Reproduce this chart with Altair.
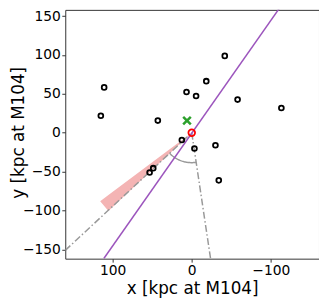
import altair as alt
import numpy as np
import pandas as pd

# satellites (open black circles)
sat_x = [110.8, 115.0, 42.9, 6.6, -5.5, -18.4, -41.8, -58.0, -113.4, 12.5, -3.4, -30.0, 53.3, 48.7, -34.2]
sat_y = [58.3, 21.9, 15.6, 52.3, 47.3, 66.3, 98.8, 42.6, 31.7, -9.4, -20.3, -16.1, -51.2, -45.6, -61.3]

# host (red circle) and green cross
host_x = [0.0]
host_y = [0.0]
cross_x = [6.0]
cross_y = [15.6]

# purple line end points
purple_x = [-112.0, 111.2]
purple_y = [161.7, -161.8]

# gray dash-dot rays from host
ray1_x = [0.0, 160.0]
ray1_y = [0.0, -151.3]
ray2_x = [0.0, -23.8]
ray2_y = [0.0, -161.8]

# pink wedge (area: x, upper y, lower y)
wedge_x = [0.0, 105.4, 115.8]
wedge_y = [0.0, -80.1, -88.0]
wedge_y2 = [0.0, -100.6, -88.0]

# arc between the two rays
arc_r = 38.5
a1 = np.arctan2(ray1_y[1], ray1_x[1])
a2 = np.arctan2(ray2_y[1], ray2_x[1])
th = np.linspace(a1, a2, 40)
arc_df = pd.DataFrame({"x": arc_r * np.cos(th), "y": arc_r * np.sin(th), "o": np.arange(40)})

xs = alt.Scale(domain=[160, -161], nice=False, zero=False)
ys = alt.Scale(domain=[-162, 158], nice=False, zero=False)

xax = alt.Axis(values=[100, 0, -100], title="x [kpc at M104]")
yax = alt.Axis(values=[-150, -100, -50, 0, 50, 100, 150], title="y [kpc at M104]",
               titleX=-42, titleY=124, titleBaseline="alphabetic", titleAlign="center")

X = alt.X("x:Q", scale=xs, axis=xax)
Y = alt.Y("y:Q", scale=ys, axis=yax)

wedge = alt.Chart(pd.DataFrame({"x": wedge_x, "y": wedge_y, "y2": wedge_y2})).mark_area(
    color="#f4b4b4", opacity=1, clip=True
).encode(x=X, y=Y, y2="y2:Q")

ray_df = pd.DataFrame({
    "x": ray1_x + ray2_x,
    "y": ray1_y + ray2_y,
    "g": ["a", "a", "b", "b"],
})
rays = alt.Chart(ray_df).mark_line(
    color="#999999", strokeWidth=1.5, strokeDash=[7, 2.5, 1.5, 2.5], clip=True
).encode(x=X, y=Y, detail="g:N")

arc = alt.Chart(arc_df).mark_line(color="#999999", strokeWidth=1.5, clip=True).encode(
    x=X, y=Y, order="o:Q"
)

purple = alt.Chart(pd.DataFrame({"x": purple_x, "y": purple_y})).mark_line(
    color="#9c55bd", strokeWidth=1.5, clip=True
).encode(x=X, y=Y)

sats = alt.Chart(pd.DataFrame({"x": sat_x, "y": sat_y})).mark_point(
    shape="circle", filled=False, color="black", size=24, strokeWidth=1.8, opacity=1
).encode(x=X, y=Y)

host = alt.Chart(pd.DataFrame({"x": host_x, "y": host_y})).mark_point(
    shape="circle", filled=False, color="#ff0000", size=45, strokeWidth=1.8, opacity=1
).encode(x=X, y=Y)

cross = alt.Chart(pd.DataFrame({"x": cross_x, "y": cross_y})).mark_point(
    shape="M-1,-1L1,1M-1,1L1,-1", filled=False, color="#2ca02c", size=60, strokeWidth=2.5, opacity=1
).encode(x=X, y=Y)

chart = alt.layer(wedge, rays, arc, purple, sats, host, cross).properties(
    width=257,
    height=252,
    autosize=alt.AutoSizeParams(type="none"),
    padding={"left": 58, "top": 0, "right": 0, "bottom": 42},
).configure_view(
    stroke="#333333", strokeWidth=1
).configure_axis(
    grid=False,
    domain=False,
    labelFont="DejaVu Sans",
    titleFont="DejaVu Sans",
    labelFontSize=14,
    titleFontSize=17,
    titleFontWeight="normal",
    labelColor="black",
    titleColor="black",
    tickColor="#333333",
    tickSize=3.5,
    labelPadding=1.5,
).configure_axisX(
    titlePadding=3,
)

chart.save("out.html", embed_options={"renderer": "svg", "actions": False})
